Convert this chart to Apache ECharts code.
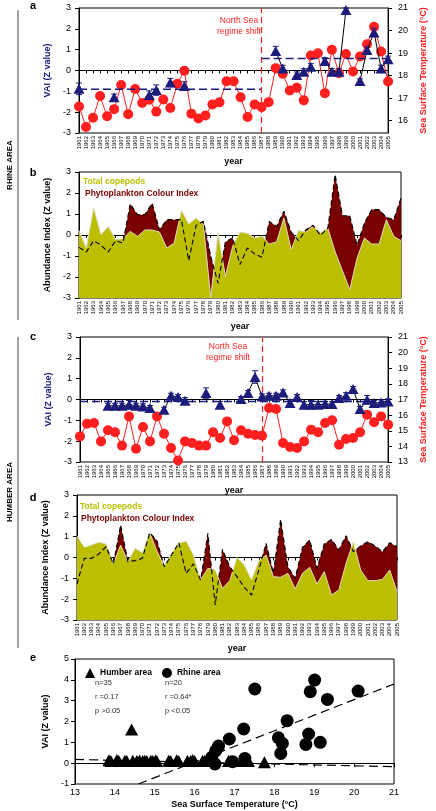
<!DOCTYPE html>
<html><head><meta charset="utf-8">
<script src="https://cdn.jsdelivr.net/npm/echarts@6/dist/echarts.min.js"></script>
<style>html,body{margin:0;padding:0;background:#fff}#c{width:436px;height:811px}</style>
</head><body><div id="c"></div>
<script>
// ---------- DATA ----------
const years = ['1961','1962','1963','1964','1965','1966','1967','1968','1969','1970','1971','1972','1973','1974','1975','1976','1977','1978','1979','1980','1981','1982','1983','1984','1985','1986','1987','1988','1989','1990','1991','1992','1993','1994','1995','1996','1997','1998','1999','2000','2001','2002','2003','2004','2005'];
const shiftYear = '1987';

// Panel a (Rhine)
const rhineSST = [16.63,15.72,16.13,17.09,16.19,16.51,17.58,16.28,17.40,16.78,16.93,16.40,16.94,16.56,17.64,18.21,16.31,16.09,16.23,16.72,16.81,17.75,17.75,17.04,16.16,16.72,16.60,16.82,18.33,18.08,17.34,17.46,16.90,18.89,18.99,17.22,19.15,18.10,18.96,18.18,18.85,19.39,20.17,19.07,17.74];
const rhineVAI = [-0.88,null,null,null,null,-1.28,null,null,null,null,-1.18,-0.94,null,-0.58,null,-0.74,null,null,null,null,null,null,null,null,null,null,null,null,0.94,0.10,null,-0.22,-0.06,0.18,null,0.46,-0.06,-0.06,2.90,null,-0.50,0.98,1.83,0.10,0.54];
const rhineErr = [0.28,null,null,null,null,0.15,null,null,null,null,0.2,0.25,null,0.2,null,0.2,null,null,null,null,null,null,null,null,null,null,null,null,0.22,0.15,null,0.15,0.15,0.15,null,0.15,0.15,0.15,0.1,null,0.1,0.15,0.2,0.15,0.15];
const rhineMeanBefore = [['1961',-0.9],['1987',-0.9]];
const rhineMeanAfter = [['1987',0.58],['2005',0.58]];
const vaiTicks = [-3,-2,-1,0,1,2,3];
const rhineSSTTicks = [16,17,18,19,20,21];

// Panel b (Rhine plankton)
const rhineCopepods = [0.21,-0.62,1.29,0.02,0.4,-0.22,-0.17,0.17,-0.06,0.24,0.24,0.14,-0.62,-0.38,1.17,0.52,0.81,0.49,-2.97,0.1,-1.97,-0.54,0.14,0.08,-0.14,-0.05,-0.43,-0.33,0.81,-0.7,0.21,0.14,0.41,0.1,0.33,-0.8,-1.7,-2.6,-1.1,-0.14,-0.43,-0.43,0.73,-0.06,-0.27];
const rhinePCI = [-0.59,-0.81,-0.27,-0.49,-0.81,-0.27,-0.38,1.48,0.97,0.97,1.51,0.25,0.73,0.73,0.73,-1.22,0.46,0.65,-1.0,-2.29,-0.33,-0.14,-1.41,-0.62,-0.9,-1.06,0.65,0.41,1.13,0.14,-0.27,0.25,0.46,-0.02,0.33,2.87,0.92,0.92,-0.49,0.57,1.21,1.21,0.84,0.73,1.76];

// Panel c (Humber)
const humberSST = [14.64,15.45,15.5,14.32,15.03,14.9,14.05,15.92,13.85,15.24,14.32,15.92,14.81,13.9,13.1,14.32,14.22,14.05,14.05,14.9,14.54,15.6,14.39,15.03,14.81,14.73,14.69,16.46,16.39,14.22,13.96,13.9,14.32,15.07,14.9,15.5,15.67,14.11,14.47,14.54,14.9,16.03,15.54,15.92,15.39];
const humberVAI = [null,null,null,null,-0.3,-0.3,-0.3,-0.25,-0.3,-0.33,-0.41,null,-0.49,0.18,0.12,-0.06,null,null,0.31,null,-0.25,null,null,0.02,0.31,1.08,0.15,0.18,0.18,0.34,-0.17,0.12,-0.25,-0.25,-0.25,-0.22,-0.22,0.07,0.18,0.5,-0.46,-0.01,-0.17,-0.14,-0.09];
const humberErr = [null,null,null,null,0.12,0.12,0.12,0.2,0.12,0.12,0.12,null,0.12,0.12,0.12,0.15,null,null,0.25,null,0.15,null,null,0.12,0.12,0.3,0.12,0.12,0.12,0.12,0.15,0.12,0.15,0.2,0.15,0.12,0.12,0.12,0.15,0.12,0.12,0.2,0.12,0.12,0.12];
const humberMean = [['1961',-0.1],['2005',-0.1]];
const humberSSTTicks = [13,14,15,16,17,18,19,20,21];

// Panel d (Humber plankton)
const humberCopepods = [1.03,0.49,0.6,0.73,0.65,-0.31,0.6,-0.2,0.44,0.23,1.19,0.3,-0.41,0.2,0.68,0.79,0.12,-1.08,-0.52,-0.6,-1.48,-1.11,0.0,-0.36,-1.08,-0.15,0.12,-0.92,-0.95,-0.76,-1.51,-0.76,-0.47,-1.27,-0.68,-1.8,-1.56,-0.28,0.76,-0.6,-1.11,-1.11,-1.05,-0.6,-1.64];
const humberPCI = [-1.27,-0.04,-0.04,0.17,0.52,-0.31,1.56,-0.2,-0.15,-0.04,1.19,0.8,-0.44,0.12,0.71,-0.76,-0.31,-1.08,1.16,-2.28,0.39,-0.44,-0.92,-1.43,-1.8,-0.6,0.68,-0.76,1.83,-0.44,-1.0,0.49,0.84,-0.52,0.65,0.87,0.36,1.05,0.28,0.55,0.76,0.55,0.28,0.71,0.52];

// Panel e (scatter)
const humberScatterSST = [13.85,13.9,14.05,14.1,14.25,14.3,14.42,14.45,14.55,14.62,14.7,14.75,14.8,14.9,14.95,15.02,15.05,15.35,15.4,15.55,15.6,15.82,15.9,15.95,16.0,16.2,16.25,16.4,16.5,16.85,16.9,17.2,17.3,17.35,17.75];
const humberScatterVAI = [0.14,0.1,0.15,0.1,0.12,0.1,1.62,0.12,0.1,0.13,0.1,0.12,0.1,0.12,0.1,0.13,0.1,0.12,0.1,0.14,0.1,0.12,0.1,0.15,0.1,0.12,0.1,0.1,0.1,0.1,0.1,0.1,0.1,0.1,0.05];
const rhineScatterSST = [17.51,19.01,18.9,19.33,20.1,18.32,17.23,16.87,18.1,18.2,18.86,18.79,19.15,18.16,16.6,16.53,16.43,16.51,16.95,17.26];
const rhineScatterVAI = [3.56,3.99,3.43,3.06,3.46,2.04,1.64,1.16,1.22,0.95,1.4,0.9,1.0,0.47,0.82,0.6,0.28,-0.04,0.07,0.23];
const rhineFit = [[14.59,-1],[21,3.8]];
const humberFit = [[13,0.18],[21,-0.17]];
const scatterXTicks = [13,14,15,16,17,18,19,20,21];
const scatterYTicks = [-1,0,1,2,3,4,5];

// ---------- STYLE ----------
const FONT = 'Liberation Sans, Arial, sans-serif';
const NAVY = '#1c1c7c';
const RED = '#ff1f1f';
const OLIVE = '#bcbf00';
const DARKRED = '#7a0000';

function yearAxis(g){
  return {type:'category', gridIndex:g, data:years, boundaryGap:false,
    axisLine:{lineStyle:{color:'#000',width:1}},
    axisTick:{show:true,length:3,interval:0,lineStyle:{color:'#000'}},
    axisLabel:{interval:0,rotate:90,fontSize:6,margin:3,color:'#000',fontFamily:FONT},
    name:'year', nameLocation:'middle', nameGap:24,
    nameTextStyle:{fontSize:9,fontWeight:'bold',color:'#000',fontFamily:FONT},
    splitLine:{show:false}};
}
function valAxis(g, pos, min, max, ticks, name, nameColor, gap, margin){
  return {type:'value', gridIndex:g, position:pos, min:min, max:max,
    axisLine:{show:true,lineStyle:{color:'#000',width:1}},
    axisTick:{show:true,length:4,customValues:ticks,lineStyle:{color:'#000'}},
    axisLabel:{customValues:ticks,fontSize:9,color:'#000',margin:margin,fontFamily:FONT},
    splitLine:{show:false},
    name:name, nameLocation:'middle', nameRotate:90, nameGap:gap,
    nameTextStyle:{fontSize:9,fontWeight:'bold',color:nameColor,fontFamily:FONT}};
}
function errData(vals, errs){
  const out=[]; vals.forEach((v,i)=>{ if(v!=null) out.push([i, v-errs[i], v+errs[i]]); }); return out;
}
function renderErr(params, api){
  const i = api.value(0);
  const top = api.coord([i, api.value(2)]);
  const bot = api.coord([i, api.value(1)]);
  const w = 3, st = {stroke:NAVY, lineWidth:1};
  return {type:'group', children:[
    {type:'line', shape:{x1:top[0],y1:top[1],x2:bot[0],y2:bot[1]}, style:st},
    {type:'line', shape:{x1:top[0]-w,y1:top[1],x2:top[0]+w,y2:top[1]}, style:st},
    {type:'line', shape:{x1:bot[0]-w,y1:bot[1],x2:bot[0]+w,y2:bot[1]}, style:st}
  ]};
}
const shiftLine = {silent:true, symbol:['none','none'], label:{show:false},
  lineStyle:{color:RED,type:[6,4],width:1.2}, data:[{xAxis:shiftYear}]};

function vaiPanelSeries(xi, yl, yr, sst, vai, err, means){
  const s = [];
  s.push({type:'line', name:'sst'+xi, xAxisIndex:xi, yAxisIndex:yr, data:sst,
    symbol:'circle', symbolSize:10, itemStyle:{color:RED,opacity:1}, lineStyle:{color:RED,width:1},
    markLine:shiftLine, z:2});
  means.forEach((m,k)=>s.push({type:'line', name:'mean'+xi+'_'+k, xAxisIndex:xi, yAxisIndex:yl, data:m,
    symbol:'none', lineStyle:{color:NAVY,width:1.5,type:[8,4]}, z:3}));
  s.push({type:'custom', name:'err'+xi, xAxisIndex:xi, yAxisIndex:yl, data:errData(vai,err),
    renderItem:renderErr, encode:{x:0,y:[1,2]}, z:4});
  s.push({type:'line', name:'vai'+xi, xAxisIndex:xi, yAxisIndex:yl, data:vai, connectNulls:false,
    symbol:'triangle', symbolSize:[11,10], itemStyle:{color:NAVY,opacity:1}, lineStyle:{color:'#000',width:1}, z:5});
  return s;
}
function planktonSeries(xi, yi, cop, pci){
  return [
    {type:'line', name:'pciArea'+xi, xAxisIndex:xi, yAxisIndex:yi, data:pci, symbol:'none',
      lineStyle:{width:0}, areaStyle:{color:DARKRED, opacity:1, origin:'start'}, z:1},
    {type:'line', name:'cop'+xi, xAxisIndex:xi, yAxisIndex:yi, data:cop, symbol:'none',
      lineStyle:{color:'#dedbc4',width:1}, areaStyle:{color:OLIVE, opacity:1, origin:'start'}, z:2},
    {type:'line', name:'pciLine'+xi, xAxisIndex:xi, yAxisIndex:yi, data:pci, symbol:'none',
      lineStyle:{color:'#000',width:1.1,type:[5,3]}, z:3}
  ];
}

const grids = [
  {left:79, top:8, width:322, height:125},
  {left:79, top:172, width:322, height:126},
  {left:80, top:337, width:321, height:125},
  {left:77, top:495, width:320, height:125},
  {left:75, top:659, width:319, height:125}
].map(g=>Object.assign({show:true, borderColor:'#000', borderWidth:1, backgroundColor:'transparent'}, g));

const option = {
  animation:false,
  textStyle:{fontFamily:FONT},
  grid:grids,
  xAxis:[
    yearAxis(0), yearAxis(1), yearAxis(2), yearAxis(3),
    {type:'value', gridIndex:4, min:13, max:21, interval:1,
      axisLine:{lineStyle:{color:'#000'}}, axisTick:{length:4,lineStyle:{color:'#000'}},
      axisLabel:{fontSize:9,color:'#000',margin:4,fontFamily:FONT}, splitLine:{show:false},
      name:'Sea Surface Temperature (°C)', nameLocation:'middle', nameGap:16,
      nameTextStyle:{fontSize:9,fontWeight:'bold',color:'#000',fontFamily:FONT}}
  ],
  yAxis:[
    valAxis(0,'left',-3,3,vaiTicks,'VAI (Z value)',NAVY,24,8),
    valAxis(0,'right',15.45,21,rhineSSTTicks,'Sea Surface Temperature (°C)',RED,27,10),
    valAxis(1,'left',-3,3,vaiTicks,'Abundance Index (Z value)','#000',24,8),
    valAxis(2,'left',-3,3,vaiTicks,'VAI (Z value)',NAVY,24,8),
    valAxis(2,'right',13,21,humberSSTTicks,'Sea Surface Temperature (°C)',RED,27,10),
    valAxis(3,'left',-3,3,vaiTicks,'Abundance Index (Z value)','#000',22,8),
    valAxis(4,'left',-1,5,scatterYTicks,'VAI (Z value)','#000',20,6)
  ],
  legend:{left:80, top:663, itemWidth:10, itemHeight:10, itemGap:10, selectedMode:false,
    textStyle:{fontSize:8.5,fontWeight:'bold',color:'#000',fontFamily:FONT},
    data:[{name:'Humber area',icon:'triangle'},{name:'Rhine area',icon:'circle'}]},
  series:[
    ...vaiPanelSeries(0,0,1,rhineSST,rhineVAI,rhineErr,[rhineMeanBefore,rhineMeanAfter]),
    ...planktonSeries(1,2,rhineCopepods,rhinePCI),
    ...vaiPanelSeries(2,3,4,humberSST,humberVAI,humberErr,[humberMean]),
    ...planktonSeries(3,5,humberCopepods,humberPCI),
    {type:'line', name:'rhineFit', xAxisIndex:4, yAxisIndex:6, data:rhineFit, symbol:'none',
      lineStyle:{color:'#000',width:1.2,type:[9,5]}},
    {type:'line', name:'humberFit', xAxisIndex:4, yAxisIndex:6, data:humberFit, symbol:'none',
      lineStyle:{color:'#000',width:1.2,type:[9,5]}},
    {type:'scatter', name:'Humber area', xAxisIndex:4, yAxisIndex:6, symbol:'triangle', symbolSize:[13,12],
      itemStyle:{color:'#000',opacity:1}, data:humberScatterSST.map((t,i)=>[t,humberScatterVAI[i]])},
    {type:'scatter', name:'Rhine area', xAxisIndex:4, yAxisIndex:6, symbol:'circle', symbolSize:13,
      itemStyle:{color:'#000',opacity:1}, data:rhineScatterSST.map((t,i)=>[t,rhineScatterVAI[i]])}
  ],
  graphic:[
    ...[['a',6],['b',173],['c',337],['d',498],['e',658]].map(p=>({type:'text', x:33, y:p[1],
      style:{text:p[0], font:'bold 11px '+FONT, fill:'#000', textAlign:'center', textVerticalAlign:'middle'}})),
    {type:'line', shape:{x1:18,y1:10,x2:18,y2:320}, style:{stroke:'#444',lineWidth:1}},
    {type:'line', shape:{x1:18,y1:337,x2:18,y2:648}, style:{stroke:'#444',lineWidth:1}},
    {type:'text', x:10, y:165, rotation:Math.PI/2,
      style:{text:'RHINE AREA', font:'bold 8px '+FONT, fill:'#000', textAlign:'center', textVerticalAlign:'middle'}},
    {type:'text', x:10, y:492, rotation:Math.PI/2,
      style:{text:'HUMBER AREA', font:'bold 8px '+FONT, fill:'#000', textAlign:'center', textVerticalAlign:'middle'}},
    {type:'text', x:239, y:20.5, style:{text:'North Sea', font:'8.5px '+FONT, fill:RED, textAlign:'center', textVerticalAlign:'middle'}},
    {type:'text', x:239, y:32, style:{text:'regime shift', font:'8.5px '+FONT, fill:RED, textAlign:'center', textVerticalAlign:'middle'}},
    {type:'text', x:228, y:346.5, style:{text:'North Sea', font:'8.5px '+FONT, fill:RED, textAlign:'center', textVerticalAlign:'middle'}},
    {type:'text', x:228, y:358, style:{text:'regime shift', font:'8.5px '+FONT, fill:RED, textAlign:'center', textVerticalAlign:'middle'}},
    {type:'text', x:83, y:182, style:{text:'Total copepods', font:'bold 8.5px '+FONT, fill:OLIVE, textVerticalAlign:'middle'}},
    {type:'text', x:85, y:194, style:{text:'Phytoplankton Colour Index', font:'bold 8.5px '+FONT, fill:DARKRED, textVerticalAlign:'middle'}},
    {type:'text', x:80, y:507, style:{text:'Total copepods', font:'bold 8.5px '+FONT, fill:OLIVE, textVerticalAlign:'middle'}},
    {type:'text', x:81, y:519, style:{text:'Phytoplankton Colour Index', font:'bold 8.5px '+FONT, fill:DARKRED, textVerticalAlign:'middle'}},
    ...[['n=35',95,683],['r =0.17',95,697],['p >0.05',95,711],['n=20',165,683],['r =0.64*',165,697],['p <0.05',165,711]].map(p=>({
      type:'text', x:p[1], y:p[2], style:{text:p[0], font:'7.5px '+FONT, fill:'#333', textVerticalAlign:'middle'}}))
  ]
};
const chart = echarts.init(document.getElementById('c'), null, {renderer:'canvas'});
chart.setOption(option);
</script></body></html>
